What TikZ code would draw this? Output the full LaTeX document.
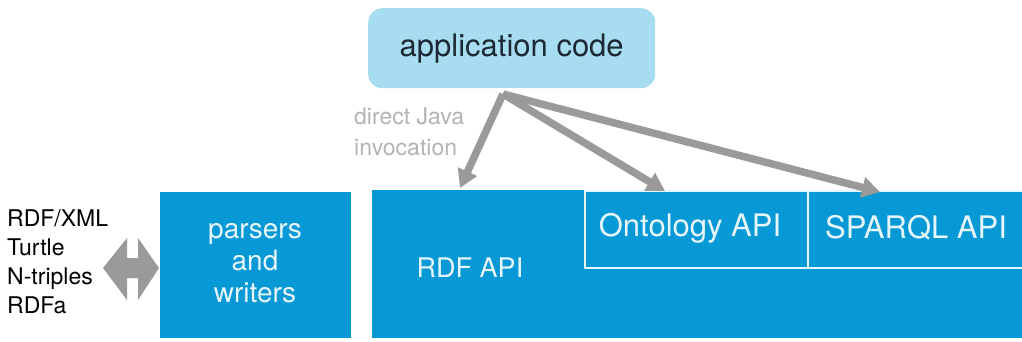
\documentclass[tikz,border=0pt]{standalone}
\usepackage{fontspec}
\setmainfont{TeX Gyre Heros}
\usetikzlibrary{arrows.meta}
\definecolor{jblue}{HTML}{0799D6}
\definecolor{jlight}{HTML}{A8DDF1}
\definecolor{jgray}{HTML}{9A9A9A}
\definecolor{jtext}{HTML}{E6F6FC}
\definecolor{jdark}{HTML}{1C2833}
\begin{document}
\begin{tikzpicture}[x=1pt,y=-1pt,
  bluebox/.style={fill=jblue,draw=none,inner sep=0pt,anchor=north west},
  apibox/.style={draw=jtext,line width=1.6pt,inner sep=0pt,anchor=north west},
  lbl/.style={text=jtext,align=center,inner sep=0pt},
  callarrow/.style={draw=jgray,line width=7.5pt,-{Triangle[length=18pt,width=20pt]}},
  fmt/.style={anchor=west,font=\fontsize{23}{29}\selectfont,align=left,inner sep=0pt}]
\useasboundingbox (0,0) rectangle (1022,341);
% application code
\node[fill=jlight,rounded corners=14pt,minimum width=287pt,minimum height=80pt,anchor=north west,inner sep=0pt,
  font=\fontsize{31}{36}\selectfont,text=jdark] (app) at (368,8) {application code};
% main blue boxes
\node[bluebox,minimum width=650pt,minimum height=148pt] (rdf) at (372,190) {};
\node[bluebox,minimum width=191pt,minimum height=146pt] (pw) at (160,192) {};
\node[lbl,font=\fontsize{28}{32}\selectfont] (pwl) at (255,263) {parsers\\and\\writers};
\node[lbl,font=\fontsize{27}{32}\selectfont] (rdfl) at (470,268) {RDF API};
% API sub-boxes
\node[apibox,minimum width=223pt,minimum height=77pt] (ont) at (584,190) {};
\node[apibox,minimum width=222pt,minimum height=77pt] (sparql) at (807,190) {};
\node[lbl,font=\fontsize{31}{36}\selectfont] (ontl) at (690,228) {Ontology API};
\node[lbl,font=\fontsize{31}{36}\selectfont] (sparqll) at (916,228) {SPARQL API};
% invocation arrows
\coordinate (src) at (503,94);
\coordinate (t1) at (460,188);
\coordinate (t2) at (665,191);
\coordinate (t3) at (880,192);
\draw[callarrow] (src) -- (t1);
\draw[callarrow] (src) -- (t2);
\draw[callarrow] (src) -- (t3);
\node[anchor=north west,inner sep=0pt,text=jgray!75,font=\fontsize{23}{31}\selectfont,align=left] (dji) at (354,108) {direct Java\\invocation};
% formats
\node[fmt] (formats) at (7,262) {RDF/XML\\Turtle\\N-triples\\RDFa};
% double arrow
\fill[jgray] (103,268) -- (127,238) -- (127,258) -- (138,258) -- (138,238) -- (159,268) -- (138,300) -- (138,278) -- (127,278) -- (127,300) -- cycle;
\end{tikzpicture}
\end{document}
